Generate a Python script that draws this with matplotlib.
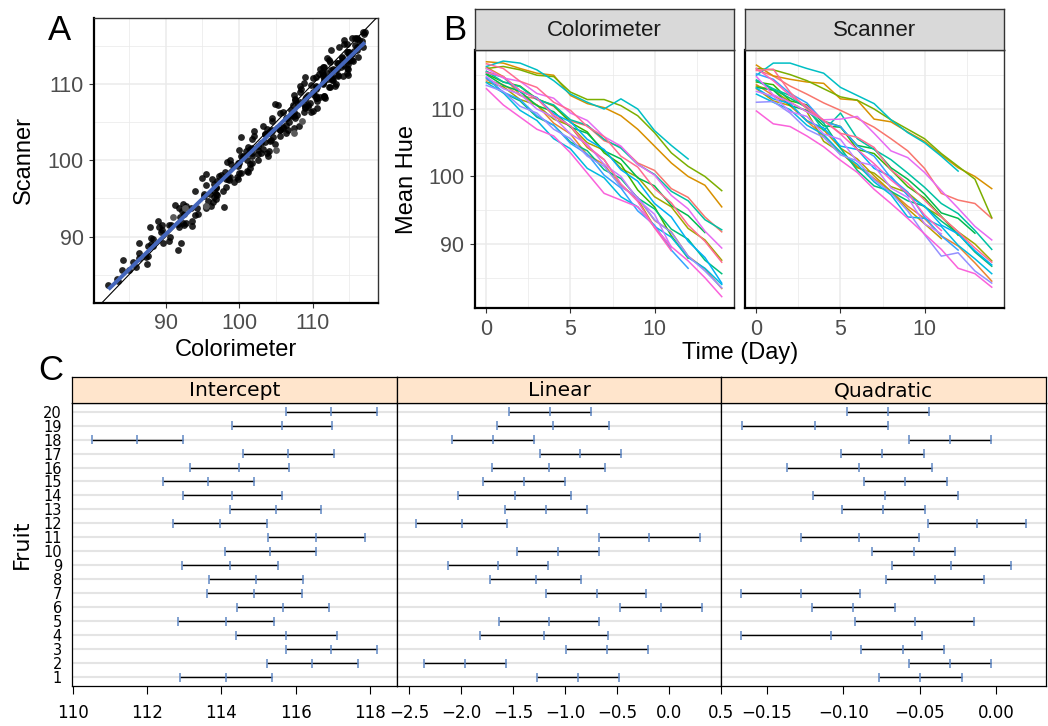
"""Hue of fruit: scanner vs colorimeter agreement, time courses, per-fruit fit intervals."""
import numpy as np
import matplotlib
matplotlib.use("Agg")
import matplotlib.pyplot as plt

# ---------------- data ----------------
days = list(range(15))
fruit_ids = list(range(1, 21))

# mean hue per fruit (1..20) and day, colorimeter
colorimeter = [
    [114.3, 113.6, 112.0, 111.5, 110.4, 108.2, 107.5, 105.3, 104.4, 102.0, 100.9, 98.2, 96.9, 94.0, 91.8],
    [116.2, 114.8, 112.1, 110.6, 107.9, 106.3, 103.2, 101.8, 98.5, 96.9, 93.5, 91.8, 88.2, 86.3, 83.4],
    [117.0, 116.8, 116.0, 115.3, 115.0, 112.0, 110.8, 110.2, 109.0, 107.0, 104.5, 102.0, 100.0, 98.7, 95.5],
    [115.5, 114.8, 112.7, 111.6, 109.0, 107.4, 104.3, 102.5, 98.8, 96.6, 92.5, 89.5],
    [114.0, 113.3, 111.4, 110.6, 108.5, 107.5, 105.0, 103.9, 101.2, 99.9, 97.0, 95.5, 92.3, 90.6, 87.6],
    [116.0, 116.3, 115.8, 115.0, 114.8, 112.5, 111.4, 111.4, 110.5, 109.0, 106.5, 103.5, 101.5, 100.0, 97.9],
    [115.2, 114.0, 113.4, 111.5, 110.5, 108.0, 106.6, 103.5, 101.8, 98.0, 95.5, 91.2, 87.9],
    [115.1, 113.5, 112.6, 110.5, 109.6, 107.3, 106.4, 103.8, 102.6, 99.8, 98.6, 95.7, 94.2, 91.7],
    [114.6, 112.4, 111.2, 108.8, 107.6, 105.1, 103.8, 101.0, 99.7, 96.8, 95.2, 92.2, 90.7, 87.6, 85.6],
    [115.6, 114.0, 113.3, 111.4, 110.6, 108.4, 107.6, 105.5, 104.2, 101.8, 100.3, 97.8, 96.4, 93.6, 92.1],
    [116.3, 117.1, 116.8, 115.8, 114.2, 112.2, 111.0, 110.0, 111.5, 110.0, 106.8, 104.6, 102.6],
    [113.9, 112.4, 109.8, 108.3, 105.6, 104.1, 101.2, 99.8, 97.0, 95.5, 92.6, 91.0, 88.0, 86.4, 84.0],
    [115.4, 114.7, 112.6, 111.7, 109.3, 108.1, 105.5, 104.0, 101.0, 99.3, 96.0, 94.0, 90.4, 88.0, 84.2],
    [114.6, 112.5, 111.4, 109.0, 107.6, 104.9, 103.3, 100.2, 98.3, 94.9, 92.8, 89.1, 86.4],
    [113.5, 112.6, 110.4, 109.4, 107.0, 105.6, 103.0, 101.5, 98.5, 96.9, 93.6, 91.7, 88.2, 86.0, 83.5],
    [114.8, 113.0, 112.2, 110.0, 108.8, 106.3, 104.8, 101.8, 100.0, 96.6, 94.4, 89.5],
    [116.0, 114.6, 114.1, 112.3, 111.6, 109.4, 108.3, 105.9, 104.5, 101.8, 100.2, 97.2, 95.2, 91.9, 89.4],
    [113.0, 110.6, 108.8, 107.0, 106.0, 103.5, 100.5, 97.5, 96.5, 95.5, 92.5, 89.6, 87.5, 85.0, 82.2],
    [115.4, 114.8, 112.7, 111.6, 109.1, 107.5, 104.5, 102.5, 98.9, 96.3, 92.4, 89.0],
    [116.7, 116.0, 114.1, 113.2, 111.0, 109.8, 107.4, 105.9, 103.0, 101.4, 98.2, 96.1, 92.8, 90.4, 87.3],
]

# same fruits and days, scanner
scanner = [
    [115.8, 114.9, 113.4, 112.2, 110.9, 109.8, 108.6, 107.3, 105.6, 103.8, 101.2, 97.5, 96.5, 96.0, 93.8],
    [113.6, 112.0, 110.6, 108.2, 106.0, 103.6, 101.5, 99.7, 97.8, 95.6, 93.8, 91.2, 89.7, 87.2, 84.5],
    [116.5, 114.9, 114.4, 114.0, 113.8, 111.5, 111.3, 108.5, 108.1, 106.6, 105.2, 103.2, 101.3, 100.0, 98.2],
    [113.0, 111.2, 110.5, 108.3, 106.9, 104.2, 102.6, 100.1, 97.8, 95.2, 93.0, 90.8],
    [113.4, 112.8, 111.0, 109.6, 105.2, 103.6, 101.3, 100.5, 98.5, 97.6, 95.5, 94.0, 91.8, 90.0, 87.5],
    [116.0, 115.8, 115.1, 114.2, 113.0, 111.8, 111.3, 110.0, 108.4, 107.0, 105.6, 103.4, 101.5, 99.6, 93.9],
    [114.0, 113.6, 111.2, 110.6, 108.2, 107.4, 104.0, 103.4, 101.0, 98.5, 96.8, 94.1, 91.3],
    [113.2, 112.8, 110.5, 109.8, 107.5, 107.3, 104.6, 104.1, 101.3, 99.6, 97.4, 94.6, 93.8, 91.6],
    [114.2, 112.9, 111.6, 110.2, 107.9, 104.2, 100.9, 98.6, 97.8, 96.4, 95.6, 93.4, 91.5, 88.8, 86.7],
    [114.3, 113.0, 112.0, 110.2, 106.8, 109.4, 105.6, 104.0, 102.5, 100.5, 98.4, 96.0, 94.5, 92.0, 89.2],
    [115.0, 116.8, 116.8, 116.0, 115.3, 113.2, 112.0, 110.8, 108.4, 106.5, 105.0, 103.0, 100.8],
    [112.2, 111.0, 109.9, 107.6, 106.2, 103.6, 101.8, 99.2, 97.3, 94.0, 93.8, 92.6, 89.8, 87.8, 85.6],
    [113.1, 111.5, 110.8, 108.2, 107.2, 104.5, 104.0, 101.2, 100.0, 97.2, 95.6, 92.8, 91.5, 89.0, 86.9],
    [115.2, 114.4, 112.3, 110.9, 108.1, 107.4, 104.5, 103.0, 99.8, 97.7, 94.0, 91.2, 89.1],
    [111.0, 111.1, 109.4, 107.0, 105.8, 103.2, 102.3, 99.5, 97.6, 94.9, 91.4, 88.2, 88.7, 86.0, 84.2],
    [112.6, 111.9, 109.6, 108.9, 106.3, 105.5, 102.2, 101.6, 98.3, 96.9, 93.0, 91.5],
    [114.8, 112.1, 111.0, 109.6, 108.4, 108.5, 108.9, 106.4, 103.8, 102.8, 100.6, 97.9, 95.3, 92.6, 90.6],
    [109.7, 107.8, 107.4, 106.0, 104.4, 102.4, 100.6, 98.1, 96.0, 93.8, 91.5, 89.2, 86.4, 85.6, 83.6],
    [116.0, 114.2, 112.0, 110.4, 108.3, 106.3, 104.0, 101.9, 99.5, 97.5, 94.3, 92.0],
    [115.7, 115.9, 112.5, 110.0, 108.3, 106.4, 105.8, 104.3, 101.0, 99.0, 96.5, 94.0, 91.8, 89.4, 87.3],
]

# points drawn in grey in panel A (fruit -> days)
grey_points = {5: [4, 5, 6], 12: [9, 10, 11]}

# per-fruit 95% intervals (lower, estimate, upper), fruits 1..20
int_lo = [112.89, 115.24, 115.73, 114.39, 112.85, 114.43, 113.61, 113.67, 112.95, 114.09,
          115.27, 112.71, 114.24, 112.96, 112.43, 113.16, 114.58, 110.52, 114.30, 115.73]
int_est = [114.12, 116.45, 116.95, 115.74, 114.13, 115.66, 114.89, 114.93, 114.24, 115.31,
           116.56, 113.97, 115.46, 114.30, 113.65, 114.49, 115.80, 111.74, 115.64, 116.95]
int_hi = [115.36, 117.69, 118.18, 117.12, 115.42, 116.89, 116.18, 116.19, 115.53, 116.54,
          117.86, 115.22, 116.69, 115.63, 114.88, 115.81, 117.03, 112.97, 116.97, 118.18]

lin_lo = [-1.268, -2.356, -0.992, -1.816, -1.637, -0.472, -1.181, -1.720, -2.131, -1.460,
          -0.671, -2.436, -1.576, -2.028, -1.788, -1.701, -1.245, -2.086, -1.659, -1.537]
lin_est = [-0.876, -1.964, -0.597, -1.207, -1.155, -0.080, -0.696, -1.284, -1.650, -1.065,
           -0.189, -1.996, -1.181, -1.479, -1.396, -1.155, -0.854, -1.691, -1.114, -1.142]
lin_hi = [-0.485, -1.573, -0.205, -0.590, -0.671, 0.315, -0.218, -0.850, -1.165, -0.677,
          0.295, -1.563, -0.786, -0.940, -1.004, -0.613, -0.462, -1.303, -0.574, -0.754]

quad_lo = [-0.0767, -0.0569, -0.0881, -0.1666, -0.0920, -0.1201, -0.1666, -0.0719, -0.0678, -0.0809,
           -0.1278, -0.0447, -0.1007, -0.1199, -0.0861, -0.1367, -0.1012, -0.0571, -0.1659, -0.0977]
quad_est = [-0.0495, -0.0299, -0.0610, -0.1077, -0.0532, -0.0933, -0.1278, -0.0399, -0.0292, -0.0536,
            -0.0894, -0.0122, -0.0737, -0.0724, -0.0593, -0.0894, -0.0743, -0.0301, -0.1184, -0.0709]
quad_hi = [-0.0225, -0.0031, -0.0338, -0.0482, -0.0144, -0.0661, -0.0889, -0.0076, 0.0096, -0.0266,
           -0.0506, 0.0198, -0.0464, -0.0246, -0.0323, -0.0419, -0.0471, -0.0031, -0.0709, -0.0438]

int_ticks = [110, 112, 114, 116, 118]
lin_ticks = [-2.5, -2.0, -1.5, -1.0, -0.5, 0.0, 0.5]
lin_ticklabels = ["\u22122.5", "\u22122.0", "\u22121.5", "\u22121.0", "\u22120.5", "0.0", "0.5"]
quad_ticks = [-0.15, -0.10, -0.05, 0.00]
quad_ticklabels = ["\u22120.15", "\u22120.10", "\u22120.05", "0.00"]

# ggplot2 hue palette, 20 levels
hue20 = ["#F8766D", "#EA8331", "#D89000", "#C09B00", "#A3A500", "#7CAE00", "#39B600",
         "#00BB4E", "#00BF7D", "#00C1A3", "#00BFC4", "#00BAE0", "#00B0F6", "#35A2FF",
         "#9590FF", "#C77CFF", "#E76BF3", "#FA62DB", "#FF62BC", "#FF6C91"]

# ---------------- layout helpers ----------------
W, H = 1048, 726


def px_box(left, top, right, bottom):
    return [left / W, 1 - bottom / H, (right - left) / W, (bottom - top) / H]


def fig_text(x, y, s, **kw):
    fig.text(x / W, 1 - y / H, s, ha="center", va="center", **kw)


def gg_style(ax, xmaj, xmin, ymaj, ymin, ylabels=True):
    ax.set_xticks(xmaj)
    ax.set_xticks(xmin, minor=True)
    ax.set_yticks(ymaj)
    ax.set_yticks(ymin, minor=True)
    ax.grid(which="major", color="#EBEBEB", lw=1.1)
    ax.grid(which="minor", color="#EBEBEB", lw=0.55)
    ax.set_axisbelow(True)
    ax.tick_params(which="minor", length=0)
    ax.tick_params(which="major", length=3.5, width=0.8, color="#333333",
                   labelcolor="#4D4D4D", labelsize=15.5, pad=4)
    if not ylabels:
        ax.tick_params(axis="y", which="major", length=0, labelleft=False)
    for s in ("top", "right"):
        ax.spines[s].set_color("#333333")
        ax.spines[s].set_linewidth(1.0)
    for s in ("left", "bottom"):
        ax.spines[s].set_color("black")
        ax.spines[s].set_linewidth(1.6)


plt.rcParams["font.family"] = ["Liberation Sans", "DejaVu Sans"]
fig = plt.figure(figsize=(W / 100, H / 100), dpi=100)

# ---------------- A: scanner vs colorimeter ----------------
axA = fig.add_axes(px_box(94, 18, 378, 303))
gg_style(axA, [90, 100, 110], [85, 95, 105, 115], [90, 100, 110], [85, 95, 105, 115])
axA.set_xlim(80.24, 118.88)
axA.set_ylim(81.29, 118.66)

xs, ys, is_grey = [], [], []
for fid, c_vals, s_vals in zip(fruit_ids, colorimeter, scanner):
    for d, (cv, sv) in enumerate(zip(c_vals, s_vals)):
        xs.append(cv)
        ys.append(sv)
        is_grey.append(d in grey_points.get(fid, []))
xs, ys, is_grey = np.array(xs), np.array(ys), np.array(is_grey)

axA.scatter(xs[~is_grey], ys[~is_grey], s=24, color="black", alpha=0.85, lw=0, zorder=2)
axA.scatter(xs[is_grey], ys[is_grey], s=24, color="#5A5A5A", lw=0, zorder=2)
axA.axline((90, 90), slope=1, color="black", lw=0.8, zorder=3)
fit = np.polyfit(xs, ys, 1)
xx = np.array([xs.min(), xs.max()])
axA.plot(xx, np.polyval(fit, xx), color="#4466BB", lw=2.8, zorder=4, solid_capstyle="butt")

fig_text(236, 350, "Colorimeter", fontsize=17)
fig_text(24, 160, "Scanner", fontsize=17, rotation=90)
fig_text(60, 30, "A", fontsize=25)

# ---------------- B: time courses ----------------
for k, (name, series) in enumerate([("Colorimeter", colorimeter), ("Scanner", scanner)]):
    left = 474.7 + k * 270
    ax = fig.add_axes(px_box(left, 50, left + 258.8, 308.3))
    gg_style(ax, [0, 5, 10], [2.5, 7.5, 12.5], [90, 100, 110], [85, 95, 105, 115],
             ylabels=(k == 0))
    for i, vals in enumerate(series):
        ax.plot(days[:len(vals)], vals, color=hue20[i], lw=1.1)
    ax.set_xlim(-0.7, 14.7)
    ax.set_ylim(80.47, 118.74)

    strip = fig.add_axes(px_box(left, 9, left + 258.8, 50))
    strip.set_facecolor("#D9D9D9")
    strip.set_xticks([])
    strip.set_yticks([])
    for s in strip.spines.values():
        s.set_color("#333333")
        s.set_linewidth(1.0)
    strip.text(0.5, 0.48, name, ha="center", va="center", fontsize=16,
               color="#1A1A1A", transform=strip.transAxes)

fig_text(740, 353, "Time (Day)", fontsize=17)
fig_text(407, 179, "Mean Hue", fontsize=17, rotation=90)
fig_text(455, 30, "B", fontsize=25)

# ---------------- C: per-fruit intervals ----------------
c_font = ["DejaVu Sans"]
panels = [
    ("Intercept", int_lo, int_est, int_hi, (109.978, 118.726), int_ticks,
     [str(t) for t in int_ticks]),
    ("Linear", lin_lo, lin_est, lin_hi, (-2.618, 0.502), lin_ticks, lin_ticklabels),
    ("Quadratic", quad_lo, quad_est, quad_hi, (-0.1799, 0.0327), quad_ticks, quad_ticklabels),
]
edges = [(71.7, 397), (397, 721), (721, 1046)]
for k, ((title, lo, est, hi, xlim, ticks, labels), (l, r)) in enumerate(zip(panels, edges)):
    ax = fig.add_axes(px_box(l, 402.7, r, 686))
    ax.set_xlim(*xlim)
    ax.set_ylim(0.36, 20.64)
    for f in fruit_ids:
        ax.axhline(f, color="#E4E4E4", lw=1.5, zorder=0)
    ax.hlines(fruit_ids, lo, hi, color="black", lw=1.0, zorder=2)
    ybars = np.array(fruit_ids)
    for vals in (lo, est, hi):
        ax.vlines(vals, ybars - 0.32, ybars + 0.32, color="#5F87C4", lw=1.1, zorder=3)
    ax.set_xticks(ticks)
    ax.set_xticklabels(labels, fontfamily=c_font)
    ax.tick_params(axis="x", length=6, width=0.8, color="black", labelsize=12, pad=7)
    if k == 0:
        ax.set_yticks(fruit_ids)
        ax.set_yticklabels([str(f) for f in fruit_ids], fontfamily=c_font)
        ax.tick_params(axis="y", length=0, labelsize=10.5, pad=7)
    else:
        ax.set_yticks([])
    for s in ax.spines.values():
        s.set_color("black")
        s.set_linewidth(0.9)

    strip = fig.add_axes(px_box(l, 376.7, r, 402.7))
    strip.set_facecolor("#FFE5CC")
    strip.set_xticks([])
    strip.set_yticks([])
    for s in strip.spines.values():
        s.set_color("black")
        s.set_linewidth(0.9)
    strip.text(0.5, 0.45, title, ha="center", va="center", fontsize=14.5,
               family=c_font, transform=strip.transAxes)

fig_text(21.7, 544, "Fruit", fontsize=16, rotation=90, family=c_font)
fig_text(51, 371, "C", fontsize=25)

fig.savefig("out.png", dpi=100)
